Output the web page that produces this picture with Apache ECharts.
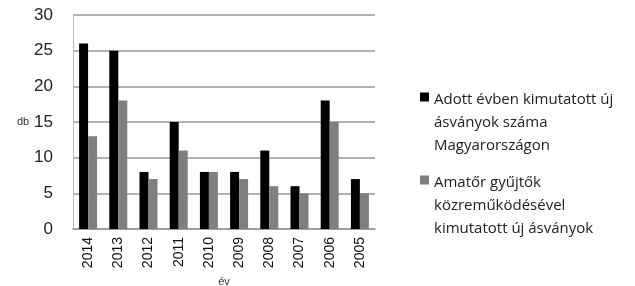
<!DOCTYPE html>
<html>
<head>
<meta charset="utf-8">
<script src="https://cdn.jsdelivr.net/npm/echarts@6/dist/echarts.min.js"></script>
<style>
  html, body { margin: 0; padding: 0; background: #fff; }
  #chart { width: 635px; height: 286px; }
</style>
</head>
<body>
<div id="chart"></div>
<script>
const years = ['2014', '2013', '2012', '2011', '2010', '2009', '2008', '2007', '2006', '2005']
const ujAsvanyok = [26, 25, 8, 15, 8, 8, 11, 6, 18, 7]
const amatorGyujtok = [13, 18, 7, 11, 8, 7, 6, 5, 15, 5]
const seriesNames = [
  'Adott évben kimutatott új\násványok száma\nMagyarországon',
  'Amatőr gyűjtők\nközreműködésével\nkimutatott új ásványok'
]

const chart = echarts.init(document.getElementById('chart'))
chart.setOption({
  animation: false,
  textStyle: { fontFamily: 'Open Sans, sans-serif' },
  grid: { left: 73, right: 260, top: 15, bottom: 57, outerBoundsMode: 'none' },
  legend: {
    orient: 'vertical',
    left: 415,
    top: 83,
    itemWidth: 9,
    itemHeight: 60,
    itemGap: 14,
    // square sits at the top of a tall icon so it lines up with the first text line
    icon: 'path://M0,0L9,0L9,9L0,9Z M0,60L0.01,60',
    textStyle: { fontSize: 15, color: '#222', lineHeight: 23, fontFamily: 'Open Sans, sans-serif' },
    data: seriesNames
  },
  xAxis: {
    type: 'category',
    data: years,
    name: 'év',
    nameLocation: 'middle',
    nameGap: 45,
    nameTextStyle: { fontSize: 11, color: '#333', fontFamily: 'Liberation Sans, sans-serif' },
    axisLine: { lineStyle: { color: '#999', width: 1.5 } },
    axisTick: { show: false },
    axisLabel: { rotate: 90, fontSize: 14, color: '#111', margin: 8, fontFamily: 'Liberation Sans, sans-serif' }
  },
  yAxis: {
    type: 'value',
    min: 0,
    max: 30,
    interval: 5,
    name: 'db',
    nameLocation: 'middle',
    nameRotate: 0,
    nameGap: 28,
    nameTextStyle: { fontSize: 11, color: '#333', fontFamily: 'Liberation Sans, sans-serif' },
    axisLine: { show: true, lineStyle: { color: '#bbb' } },
    axisLabel: { fontSize: 17, color: '#222', margin: 20, fontFamily: 'Liberation Sans, sans-serif' },
    splitLine: { lineStyle: { color: '#999', width: 1.5 } }
  },
  series: [
    {
      name: seriesNames[0],
      type: 'bar',
      data: ujAsvanyok,
      barWidth: 9,
      barGap: '0%',
      itemStyle: { color: '#000' }
    },
    {
      name: seriesNames[1],
      type: 'bar',
      data: amatorGyujtok,
      barWidth: 9,
      itemStyle: { color: '#7f7f7f' }
    }
  ]
})
</script>
</body>
</html>
